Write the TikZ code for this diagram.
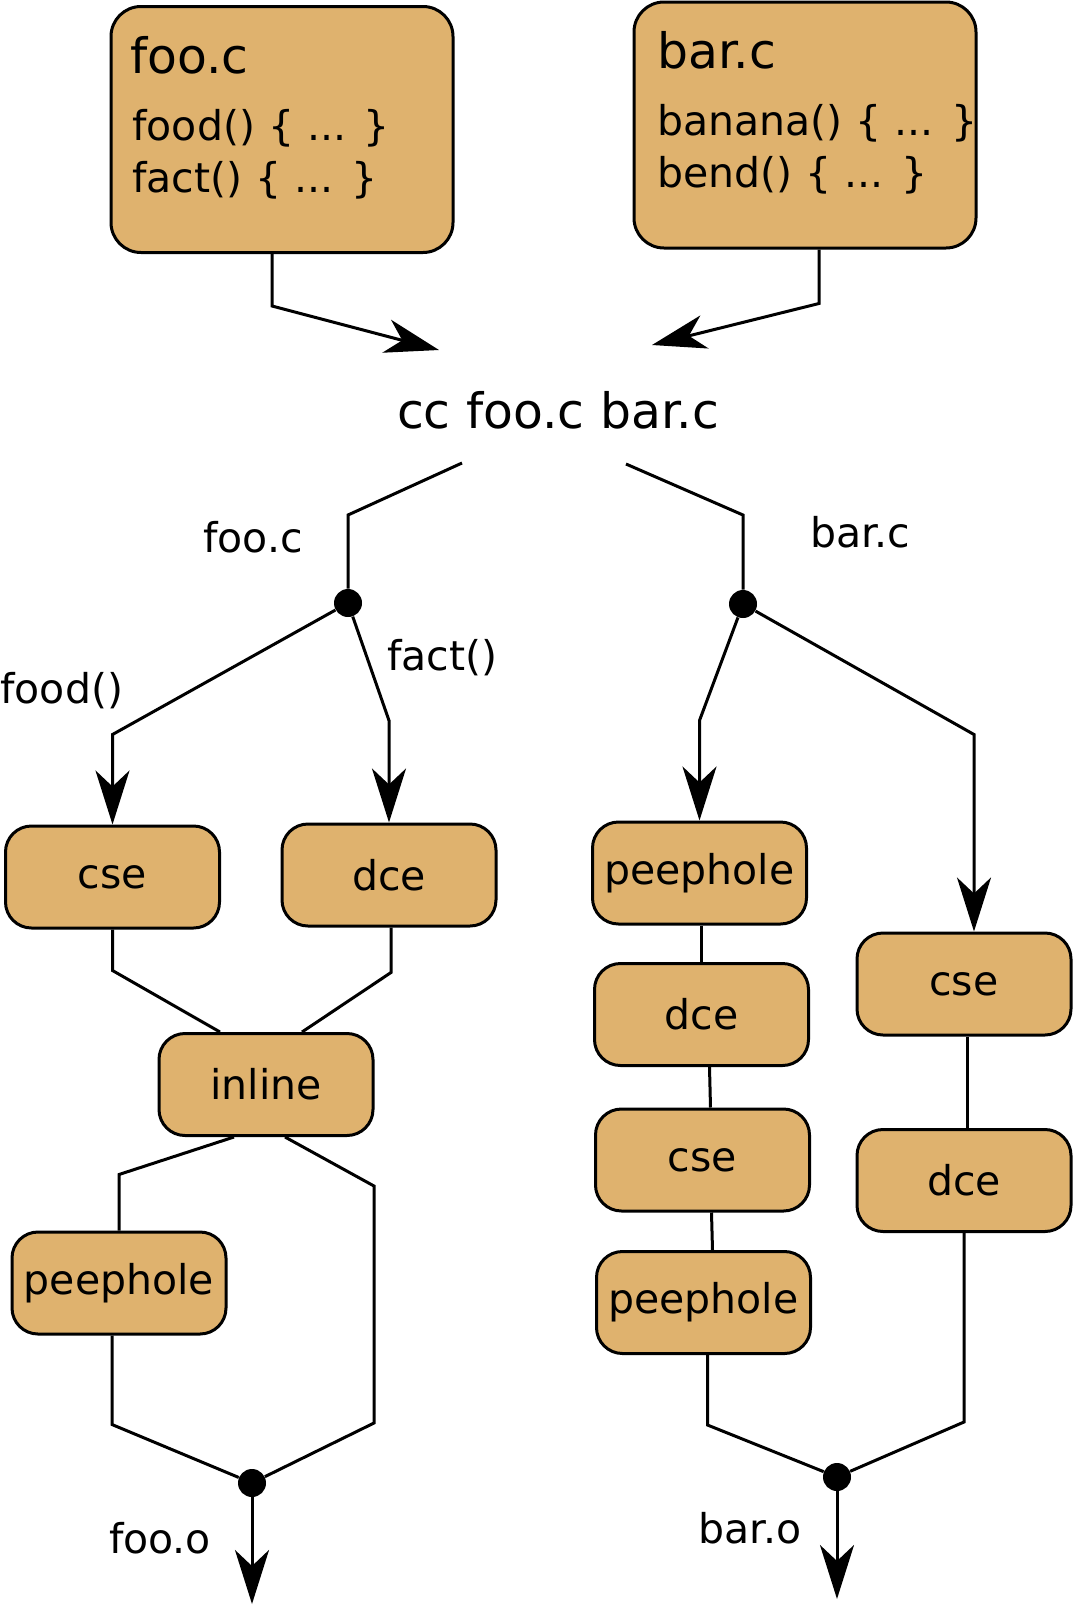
\documentclass[tikz,border=0pt]{standalone}
\usepackage{fontspec}
\setmainfont{DejaVu Sans}
\usepackage{tikz}
\usetikzlibrary{arrows.meta}
\definecolor{passtan}{RGB}{223,178,110}

\begin{document}
\begin{tikzpicture}[x=0.5pt,y=-0.5pt,
  src/.style={draw,line width=1.5pt,fill=passtan,rounded corners=15pt,minimum width=171pt,minimum height=123pt},
  pass/.style={draw,line width=1.5pt,fill=passtan,rounded corners=13pt,minimum width=107pt,minimum height=51pt,inner sep=0pt,font=\fontsize{20.5}{24}\selectfont},
  lbl/.style={inner sep=0pt,font=\fontsize{20.5}{24}\selectfont},
  big/.style={inner sep=0pt,font=\fontsize{24.4}{29}\selectfont},
  wire/.style={line width=1.5pt},
  flow/.style={line width=1.5pt,-{Stealth[length=27pt,width=17pt,inset=8pt]}},
  joint/.style={circle,fill=black,inner sep=0pt,minimum size=14pt}]
\useasboundingbox (0,0) rectangle (1073,1607);

\node[src] (foo) at (282,129.5) {};
\node[src] (bar) at (805,125) {};
\node[big,anchor=base west] (footitle) at (130,73) {foo.c};
\node[lbl,anchor=base west] (foofood) at (132,140) {food() \{ ... \}};
\node[lbl,anchor=base west] (foofact) at (132,192) {fact() \{ ... \}};
\node[big,anchor=base west] (bartitle) at (657,68) {bar.c};
\node[lbl,anchor=base west] (barbanana) at (657,135) {banana() \{ ... \}};
\node[lbl,anchor=base west] (barbend) at (657,187) {bend() \{ ... \}};

\node[big,anchor=base] (cc) at (558,428) {cc foo.c bar.c};
\coordinate (ccfoo) at (439,350);
\coordinate (ccbar) at (652,345);
\coordinate (ccl) at (462,463);
\coordinate (ccr) at (626,464);

\node[joint] (fsplit) at (348,603) {};
\node[joint] (bsplit) at (743,604) {};
\node[lbl,anchor=base] (lfooc) at (253,552) {foo.c};
\node[lbl,anchor=base] (lbarc) at (860,547) {bar.c};
\node[lbl,anchor=base west] (lfood) at (0,703) {food()};
\node[lbl,anchor=base west] (lfact) at (387,670) {fact()};

\node[pass] (cseA) at (112.5,877) {cse};
\node[pass] (dceA) at (389,875) {dce};
\node[pass] (inl) at (266,1084.5) {inline};
\node[pass] (peepA) at (119,1283) {peephole};

\node[pass] (peepB1) at (699.5,873) {peephole};
\node[pass] (dceB) at (701.5,1014.5) {dce};
\node[pass] (cseB) at (702.5,1160) {cse};
\node[pass] (peepB2) at (703.5,1302.5) {peephole};
\node[pass] (cseC) at (964,984) {cse};
\node[pass] (dceC) at (964,1180.5) {dce};

\node[joint] (fjoin) at (252,1483) {};
\node[joint] (bjoin) at (837,1477) {};
\coordinate (fout) at (252,1604);
\coordinate (bout) at (837,1599);
\node[lbl,anchor=base] (lfooo) at (160,1553) {foo.o};
\node[lbl,anchor=base] (lbaro) at (750,1543) {bar.o};

\draw[flow] ([xshift=-5pt]foo.south) -- ++(0,52) -- (ccfoo);
\draw[flow] ([xshift=7pt]bar.south) -- ++(0,54) -- (ccbar);
\draw[wire] (ccl) -- ++(-114,52) -- (fsplit);
\draw[wire] (ccr) -- ++(117,51) -- (bsplit);

\draw[flow] (fsplit) -- ([yshift=45pt]cseA.north) -- (cseA.north);
\draw[flow] (fsplit) -- ([yshift=51pt]dceA.north) -- (dceA.north);
\draw[flow] (bsplit) -- ([yshift=50pt]peepB1.north) -- (peepB1.north);
\draw[flow] (bsplit) -- ([xshift=5pt,yshift=98.5pt]cseC.north) -- ([xshift=5pt]cseC.north);

\draw[wire] (cseA.south) -- ++(0,41) -- ([xshift=-23pt]inl.north);
\draw[wire] ([xshift=1pt]dceA.south) -- ++(0,45) -- ([xshift=18pt]inl.north);
\draw[wire] ([xshift=-16pt]inl.south) -- ([yshift=28pt]peepA.north) -- (peepA.north);
\draw[wire] ([xshift=9.5pt]inl.south) -- ++(89,49) -- ++(0,237) -- (fjoin);
\draw[wire] ([xshift=-3.5pt]peepA.south) -- ++(0,89) -- (fjoin);
\draw[flow] (fjoin) -- (fout);

\draw[wire] ([xshift=1pt]peepB1.south) -- ([xshift=0pt]dceB.north);
\draw[wire] ([xshift=4pt]dceB.south) -- ([xshift=4pt]cseB.north);
\draw[wire] ([xshift=4.5pt]cseB.south) -- ([xshift=4.5pt]peepB2.north);
\draw[wire] ([xshift=2pt]peepB2.south) -- ++(0,70) -- (bjoin);
\draw[wire] ([xshift=1.5pt]cseC.south) -- ([xshift=1.5pt]dceC.north);
\draw[wire] (dceC.south) -- ++(0,189) -- (bjoin);
\draw[flow] (bjoin) -- (bout);
\end{tikzpicture}
\end{document}
